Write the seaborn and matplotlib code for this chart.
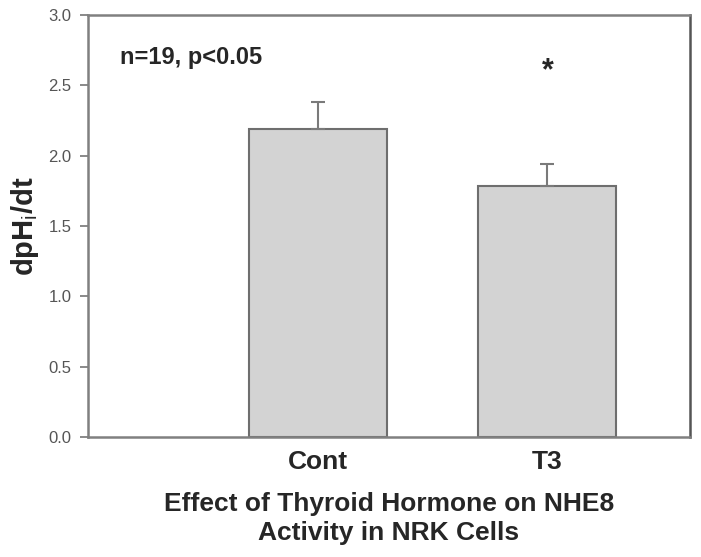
import matplotlib
matplotlib.use("Agg")
import matplotlib.pyplot as plt
import pandas as pd
import seaborn as sns

# values
groups = ["Cont", "T3"]
rates = [2.19, 1.785]
sem = [0.19, 0.155]
y_ticks = [0.0, 0.5, 1.0, 1.5, 2.0, 2.5, 3.0]

sns.set_style("white")
plt.rcParams["font.family"] = ["Liberation Sans", "DejaVu Sans"]
plt.rcParams["mathtext.fontset"] = "custom"
plt.rcParams["mathtext.rm"] = "Liberation Sans"
plt.rcParams["mathtext.bf"] = "Liberation Sans:bold"

df = pd.DataFrame({"group": groups, "rate": rates, "sem": sem})

fig = plt.figure(figsize=(7.01, 5.57), dpi=100)
ax = fig.add_axes([0.1255, 0.2154, 0.8585, 0.7577])

sns.barplot(data=df, x="group", y="rate", order=groups, errorbar=None,
            width=0.6, color="#d3d3d3", edgecolor="#6e6e6e", linewidth=1.5,
            saturation=1, ax=ax)
ax.errorbar(range(len(groups)), df["rate"], yerr=[[0] * len(groups), df["sem"]],
            fmt="none", ecolor="#7a7a7a", elinewidth=1.5, capsize=5,
            capthick=1.5, zorder=1)

ax.set_xlim(-1.0, 1.62)
ax.set_ylim(0, 3.0)
ax.set_yticks(y_ticks)
ax.set_yticklabels([f"{v:.1f}" for v in y_ticks])

for side in ["left", "bottom", "top", "right"]:
    ax.spines[side].set_visible(True)
    ax.spines[side].set_color("#808080")
    ax.spines[side].set_linewidth(1.8)
ax.spines["right"].set_color("#555555")

ax.tick_params(axis="y", which="both", left=True, length=6, width=1.3,
               color="#808080", labelsize=12, labelcolor="#555555", pad=6)
ax.tick_params(axis="x", bottom=False, labelsize=19, pad=6)
for lbl in ax.get_xticklabels():
    lbl.set_fontweight("bold")

ax.set_ylabel(r"dpH$_\mathrm{i}$/dt", fontsize=21, fontweight="bold", labelpad=5)
ax.set_xlabel("Effect of Thyroid Hormone on NHE8\nActivity in NRK Cells",
              fontsize=19, fontweight="bold", labelpad=13, linespacing=1.25)

ax.text(-0.86, 2.70, "n=19, p<0.05", fontsize=17, fontweight="bold",
        va="center", ha="left")
ax.text(1.0, 2.60, "*", fontsize=22, fontweight="bold", ha="center", va="center")

fig.savefig("out.png", dpi=100)
